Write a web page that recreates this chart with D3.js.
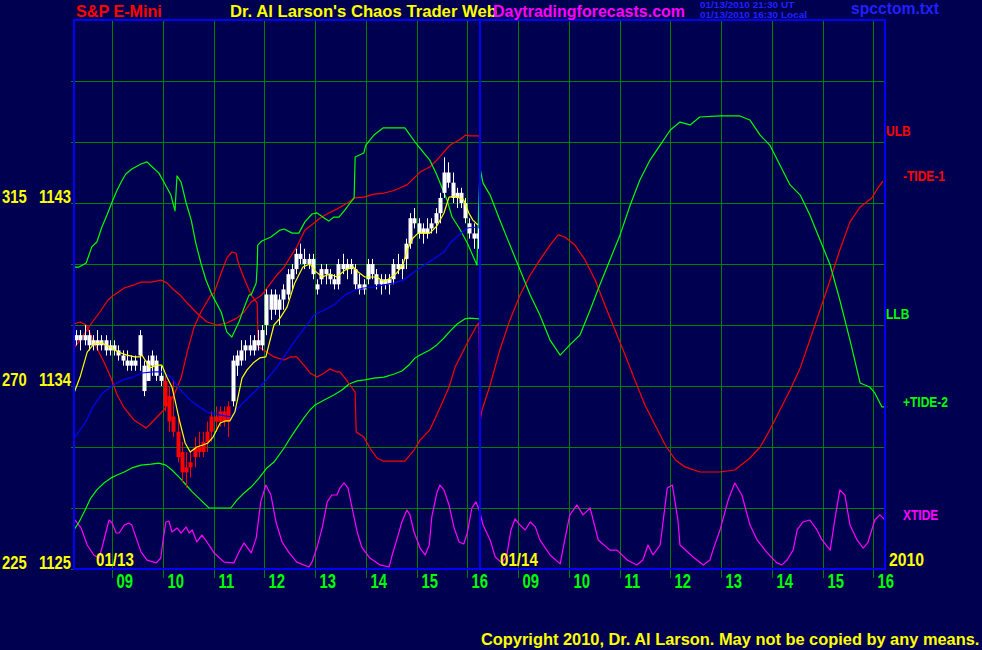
<!DOCTYPE html>
<html><head><meta charset="utf-8">
<script src="https://cdn.jsdelivr.net/npm/d3@7"></script>
<style>
html,body{margin:0;padding:0;background:#000050;}
svg{display:block;}
text{font-family:"Liberation Sans",Arial,Helvetica,sans-serif;font-weight:bold;}
</style></head><body>
<svg id="c" width="982" height="650"></svg>
<script>
// ---------------- DATA ----------------
const dayLabels = ["01/13", "01/14"];
const hourTicks = [9, 10, 11, 12, 13, 14, 15, 16];
const hourLabels = ["09", "10", "11", "12", "13", "14", "15", "16"];
const gridPrices = [1125, 1128, 1131, 1134, 1137, 1140, 1143, 1146, 1149];
const labelPrices = [1125, 1134, 1143];
const labelAngles = [225, 270, 315];
const sessionStart = 8.25, sessionEnd = 16.25;   // 08:15 - 16:15
const barMinutes = 5;

// 5-minute bars, 01/13 (open, high, low, close)
const barOpen = [1136.50,1136.25,1136.50,1136.50,1136.00,1136.25,1136.00,1136.25,1135.75,1136.00,1135.75,1135.50,1135.25,1135.00,1135.25,1135.50,1135.00,1134.25,1135.00,1135.25,1134.50,
 1134.25,1133.50,1132.50,1131.75,1130.75,1129.75,1130.00,1130.50,1131.00,1130.75,1131.25,1131.75,1132.50,1132.25,1132.75,1132.25,
 1133.25,1135.00,1135.25,1135.75,1136.00,1135.75,1136.25,1136.00,1137.00,1137.75,1138.50,1137.75,1138.25,1138.50,1139.25,1139.75,1140.50,1140.25,1140.00,1140.25,1139.00,1139.25,1139.75,1139.50,1139.25,1139.00,1140.00,1139.75,1140.00,1139.75,1139.00,1138.75,1139.25,1140.00,1139.50,1139.00,1139.25,1139.00,1139.25,1140.00,1139.75,1140.25,1141.00,1142.25,1142.00,1141.50,1141.75,1141.75,1142.00,1142.50,1143.50,1144.50,1144.00,1143.25,1143.50,1143.00,1142.00,1141.50,1141.25];
const barHigh = [1136.75,1136.75,1137.00,1136.75,1136.50,1136.75,1136.50,1136.50,1136.25,1136.25,1136.00,1135.75,1135.75,1135.50,1135.50,1136.75,1135.25,1135.50,1135.75,1135.50,1135.00,
 1134.50,1134.00,1134.25,1132.50,1131.25,1130.75,1130.75,1131.50,1131.75,1131.75,1132.25,1132.75,1133.00,1133.00,1133.00,1133.25,
 1135.50,1135.75,1136.25,1136.25,1136.50,1136.50,1136.75,1137.00,1138.75,1138.75,1138.75,1138.50,1139.00,1139.75,1140.00,1140.75,1141.00,1140.75,1140.50,1140.50,1139.25,1140.00,1140.00,1139.75,1139.50,1140.25,1140.50,1140.25,1140.25,1140.00,1139.50,1139.25,1140.25,1140.25,1139.75,1139.50,1139.50,1139.50,1140.25,1140.50,1140.25,1141.25,1142.50,1142.75,1142.25,1142.00,1142.25,1142.25,1142.75,1143.50,1145.25,1145.00,1144.50,1143.75,1143.75,1143.25,1142.25,1142.00,1141.75];
const barLow = [1136.00,1135.75,1136.00,1135.75,1135.75,1135.75,1135.75,1135.50,1135.50,1135.50,1135.25,1135.00,1134.75,1134.75,1134.75,1134.75,1133.50,1134.25,1134.50,1134.25,1134.00,
 1132.75,1131.75,1131.50,1130.25,1129.25,1129.00,1129.50,1130.00,1130.50,1130.50,1130.75,1131.25,1131.75,1132.00,1132.00,1131.50,
 1133.00,1134.50,1135.00,1135.25,1135.50,1135.50,1135.75,1135.75,1136.50,1137.25,1137.50,1137.00,1137.75,1138.25,1138.75,1139.50,1140.00,1139.75,1139.75,1139.25,1138.50,1139.00,1139.00,1139.00,1138.75,1138.75,1139.50,1139.25,1139.50,1138.75,1138.50,1138.50,1139.00,1139.25,1138.75,1138.50,1138.75,1138.50,1139.00,1139.50,1139.25,1139.75,1140.75,1141.75,1141.25,1141.00,1141.25,1141.50,1141.50,1142.00,1143.25,1143.75,1143.00,1142.75,1142.75,1142.00,1141.25,1140.75,1140.75];
const barClose = [1136.25,1136.50,1136.25,1136.00,1136.25,1136.00,1136.25,1135.75,1136.00,1135.75,1135.50,1135.25,1135.00,1135.25,1135.00,1136.50,1133.75,1135.25,1135.50,1134.50,1134.25,
 1133.00,1132.25,1131.75,1130.50,1129.75,1130.00,1130.25,1131.00,1130.75,1131.25,1131.75,1132.50,1132.25,1132.75,1132.25,1133.00,
 1135.25,1135.50,1135.75,1136.00,1135.75,1136.25,1136.00,1136.75,1138.50,1138.50,1137.75,1138.25,1138.75,1139.50,1139.75,1140.50,1140.25,1140.00,1140.25,1139.50,1138.75,1139.75,1139.50,1139.25,1139.00,1140.00,1139.75,1140.00,1139.75,1139.00,1138.75,1139.00,1140.00,1139.50,1139.00,1139.25,1139.00,1139.25,1140.00,1139.75,1140.00,1141.00,1142.25,1142.00,1141.50,1141.75,1141.50,1142.00,1142.50,1143.25,1144.50,1144.00,1143.25,1143.50,1143.00,1142.25,1141.50,1141.25,1141.50];
const redBarRange = [21, 36];

// indicator series: [hour, value]  (day 0 = 01/13, day 1 = 01/14)
const ulbDay1 = [[8.25,1135.87],[8.37,1136.26],[8.57,1137.00],[8.76,1137.64],[8.92,1138.23],[9.04,1138.48],[9.24,1138.82],[9.43,1138.97],[9.57,1139.11],[9.77,1139.11],[9.96,1139.21],[10.08,1139.07],[10.22,1138.72],[10.34,1138.48],[10.48,1138.08],[10.67,1137.59],[10.87,1137.15],[11.07,1137.00],[11.26,1137.10],[11.46,1137.34],[11.60,1137.64],[11.74,1138.13],[11.95,1138.48],[12.13,1139.07],[12.25,1139.46],[12.39,1139.85],[12.51,1140.34],[12.64,1140.84],[12.80,1141.67],[12.98,1142.02],[13.10,1142.26],[13.27,1142.51],[13.43,1142.70],[13.57,1142.90],[13.67,1143.05],[13.77,1143.25],[13.96,1143.29],[14.16,1143.44],[14.36,1143.49],[14.52,1143.59],[14.67,1143.74],[14.81,1143.89],[14.95,1144.23],[15.07,1144.52],[15.26,1144.77],[15.40,1145.11],[15.54,1145.51],[15.66,1145.85],[15.84,1146.10],[15.97,1146.34],[16.05,1146.30],[16.25,1146.30]];
const llbDay1 = [[8.25,1126.92],[8.35,1127.31],[8.45,1127.80],[8.58,1128.49],[8.70,1128.89],[8.84,1129.23],[8.98,1129.48],[9.10,1129.62],[9.24,1129.77],[9.39,1129.97],[9.57,1130.11],[9.77,1130.16],[9.92,1130.21],[10.06,1130.11],[10.18,1129.87],[10.32,1129.52],[10.46,1129.13],[10.58,1128.79],[10.75,1128.39],[10.91,1128.00],[11.34,1128.00],[11.46,1128.39],[11.60,1128.74],[11.74,1129.03],[11.90,1129.48],[12.05,1129.97],[12.19,1130.26],[12.39,1130.95],[12.51,1131.44],[12.64,1131.93],[12.78,1132.43],[12.90,1132.82],[13.00,1133.07],[13.18,1133.31],[13.37,1133.56],[13.53,1133.80],[13.67,1134.10],[13.83,1134.25],[13.98,1134.30],[14.16,1134.39],[14.36,1134.44],[14.56,1134.59],[14.71,1134.74],[14.85,1135.03],[14.97,1135.38],[15.07,1135.52],[15.26,1135.77],[15.40,1136.02],[15.54,1136.36],[15.66,1136.70],[15.80,1137.05],[15.95,1137.30],[16.05,1137.34],[16.23,1137.30]];
const tide1Day1 = [[8.25,1137.05],[8.37,1137.15],[8.49,1137.00],[8.64,1136.16],[8.84,1135.18],[8.98,1134.39],[9.10,1133.56],[9.24,1132.92],[9.43,1132.33],[9.67,1131.93],[9.83,1132.33],[10.02,1132.82],[10.22,1133.56],[10.36,1134.39],[10.48,1135.67],[10.61,1136.85],[10.75,1137.64],[10.95,1138.48],[11.01,1138.57],[11.15,1139.56],[11.26,1140.29],[11.36,1140.59],[11.44,1140.54],[11.50,1139.95],[11.60,1139.31],[11.74,1138.48],[11.86,1138.08],[11.88,1135.92],[11.93,1135.87],[12.19,1135.43],[12.39,1135.28],[12.51,1135.43],[12.64,1135.43],[12.78,1135.03],[12.90,1134.64],[13.04,1134.44],[13.18,1134.64],[13.29,1134.84],[13.43,1134.69],[13.49,1134.69],[13.59,1134.39],[13.69,1134.05],[13.79,1133.70],[13.80,1132.72],[13.81,1131.74],[13.96,1131.49],[14.08,1130.95],[14.22,1130.46],[14.34,1130.31],[14.77,1130.31],[14.95,1130.85],[15.07,1131.34],[15.26,1131.84],[15.46,1132.92],[15.64,1133.95],[15.76,1134.93],[15.90,1135.62],[16.03,1136.26],[16.19,1137.00],[16.23,1137.10]];
const tide1Day2 = [[8.25,1132.23],[8.29,1132.82],[8.45,1134.05],[8.64,1135.77],[8.84,1137.25],[9.04,1138.48],[9.24,1139.46],[9.43,1140.20],[9.63,1140.93],[9.79,1141.43],[9.92,1141.33],[10.12,1140.93],[10.32,1140.20],[10.52,1139.21],[10.71,1137.98],[10.91,1136.75],[11.11,1135.52],[11.30,1134.30],[11.50,1133.07],[11.70,1132.08],[11.90,1131.10],[12.10,1130.36],[12.29,1130.02],[12.58,1129.77],[12.98,1129.77],[13.27,1129.87],[13.57,1130.46],[13.77,1131.00],[13.96,1131.84],[14.16,1132.82],[14.36,1133.80],[14.56,1134.89],[14.75,1136.26],[14.95,1137.74],[15.15,1139.21],[15.34,1140.69],[15.54,1142.07],[15.74,1142.80],[15.97,1143.25],[16.09,1143.74],[16.19,1144.08]];
const tide2Day1 = [[8.25,1139.85],[8.35,1139.85],[8.49,1140.05],[8.60,1140.84],[8.70,1141.08],[8.80,1141.82],[8.90,1142.41],[9.00,1143.05],[9.10,1143.64],[9.18,1144.03],[9.27,1144.43],[9.39,1144.67],[9.57,1144.92],[9.69,1145.02],[9.77,1144.82],[9.92,1144.48],[10.02,1144.03],[10.16,1143.39],[10.24,1142.61],[10.26,1143.49],[10.28,1144.33],[10.36,1144.03],[10.46,1143.00],[10.56,1142.16],[10.65,1141.03],[10.75,1140.05],[10.85,1139.21],[10.97,1138.48],[11.15,1137.64],[11.26,1136.66],[11.36,1136.41],[11.50,1137.15],[11.60,1137.84],[11.70,1138.48],[11.74,1138.48],[11.84,1139.07],[11.86,1139.95],[11.87,1140.93],[11.95,1141.13],[12.13,1141.33],[12.31,1141.67],[12.39,1141.72],[12.55,1141.52],[12.68,1141.52],[12.80,1142.07],[12.94,1142.46],[13.04,1142.51],[13.18,1142.26],[13.27,1142.11],[13.37,1142.31],[13.47,1142.31],[13.59,1142.66],[13.69,1143.00],[13.77,1143.25],[13.78,1144.28],[13.79,1145.26],[13.96,1145.46],[14.00,1145.85],[14.16,1146.34],[14.34,1146.69],[14.77,1146.69],[14.97,1146.00],[15.05,1145.75],[15.26,1145.11],[15.40,1144.38],[15.60,1143.15],[15.70,1142.31],[15.84,1141.77],[16.00,1141.03],[16.19,1139.95]];
const tide2Day2 = [[8.25,1144.72],[8.31,1143.98],[8.45,1143.39],[8.64,1142.16],[8.84,1140.93],[9.04,1139.70],[9.24,1138.48],[9.43,1137.49],[9.63,1136.26],[9.83,1135.52],[10.02,1136.02],[10.22,1136.51],[10.42,1137.74],[10.61,1138.97],[10.81,1140.20],[11.01,1141.43],[11.21,1142.90],[11.40,1144.13],[11.60,1145.11],[11.80,1145.85],[12.00,1146.59],[12.19,1146.98],[12.39,1146.84],[12.58,1147.23],[12.98,1147.28],[13.37,1147.28],[13.57,1147.08],[13.77,1146.34],[13.96,1145.85],[14.16,1144.87],[14.36,1143.89],[14.56,1143.39],[14.75,1142.41],[14.95,1141.18],[15.15,1139.95],[15.34,1138.23],[15.54,1136.26],[15.74,1134.15],[15.93,1133.95],[16.03,1133.66],[16.17,1132.97],[16.23,1132.97]];
const xtideDay1 = [[8.25,1127.46],[8.39,1127.02],[8.51,1126.18],[8.64,1125.69],[8.74,1125.54],[8.80,1126.03],[8.88,1126.82],[8.94,1127.41],[9.00,1127.26],[9.08,1126.77],[9.14,1126.77],[9.24,1127.16],[9.33,1127.26],[9.39,1127.16],[9.47,1126.57],[9.57,1125.84],[9.69,1125.44],[9.87,1125.30],[9.96,1125.54],[10.00,1126.33],[10.06,1127.31],[10.12,1127.36],[10.18,1126.82],[10.28,1127.02],[10.36,1126.77],[10.46,1127.07],[10.52,1126.77],[10.58,1126.92],[10.67,1126.33],[10.77,1126.67],[10.87,1126.33],[11.01,1125.79],[11.21,1125.34],[11.40,1125.30],[11.50,1125.84],[11.60,1126.28],[11.66,1126.08],[11.74,1125.79],[11.84,1126.52],[11.93,1128.30],[12.03,1129.13],[12.13,1128.64],[12.23,1127.31],[12.35,1126.33],[12.49,1125.79],[12.64,1125.34],[12.88,1125.10],[12.94,1125.34],[13.04,1126.08],[13.14,1127.02],[13.24,1128.30],[13.33,1128.64],[13.43,1128.64],[13.49,1128.98],[13.57,1129.23],[13.65,1128.98],[13.73,1128.00],[13.83,1126.82],[13.92,1126.08],[14.08,1125.54],[14.28,1125.20],[14.46,1125.10],[14.52,1125.69],[14.61,1126.43],[14.71,1127.31],[14.81,1127.90],[14.87,1127.66],[14.95,1126.82],[15.07,1126.03],[15.17,1125.69],[15.25,1126.18],[15.30,1127.56],[15.40,1128.74],[15.46,1129.13],[15.54,1128.89],[15.64,1128.15],[15.74,1127.02],[15.84,1126.33],[15.93,1126.23],[16.00,1126.77],[16.09,1128.00],[16.17,1128.30],[16.25,1127.80]];
const xtideDay2 = [[8.31,1127.16],[8.45,1126.43],[8.55,1125.59],[8.68,1125.30],[8.78,1125.69],[8.86,1126.92],[8.94,1127.46],[9.04,1127.16],[9.14,1126.92],[9.24,1127.31],[9.34,1127.07],[9.43,1126.43],[9.63,1125.69],[9.83,1125.25],[9.92,1126.43],[10.02,1127.66],[10.16,1128.15],[10.28,1127.66],[10.42,1128.00],[10.58,1126.43],[10.81,1125.93],[10.95,1125.93],[11.15,1125.44],[11.34,1125.20],[11.46,1125.44],[11.56,1126.18],[11.66,1125.69],[11.80,1126.18],[11.94,1128.98],[12.04,1129.13],[12.15,1127.41],[12.19,1126.18],[12.45,1125.59],[12.65,1125.20],[12.78,1125.44],[12.84,1125.93],[12.98,1126.92],[13.14,1128.39],[13.27,1129.23],[13.41,1128.64],[13.57,1127.16],[13.71,1126.43],[13.91,1125.79],[14.10,1125.30],[14.20,1125.20],[14.30,1125.44],[14.42,1125.93],[14.50,1126.92],[14.61,1127.31],[14.75,1127.41],[14.89,1126.92],[14.99,1126.43],[15.15,1125.93],[15.24,1127.41],[15.34,1128.89],[15.44,1128.64],[15.54,1127.16],[15.68,1126.43],[15.80,1126.03],[15.89,1126.28],[16.03,1127.41],[16.13,1127.66],[16.23,1127.41]];
const slowAvgDay1 = [[8.25,1131.44],[8.47,1132.18],[8.62,1132.97],[8.82,1133.66],[9.02,1134.05],[9.22,1134.30],[9.41,1134.44],[9.59,1134.64],[9.81,1134.69],[9.98,1134.69],[10.16,1134.44],[10.38,1133.70],[10.61,1133.16],[10.87,1132.72],[11.15,1132.57],[11.34,1132.48],[11.54,1133.07],[11.74,1133.56],[11.99,1134.15],[12.25,1134.93],[12.45,1135.67],[12.64,1136.36],[12.84,1137.00],[12.98,1137.49],[13.18,1137.74],[13.37,1137.98],[13.59,1138.48],[13.79,1138.72],[13.96,1138.82],[14.16,1138.87],[14.36,1138.97],[14.56,1139.07],[14.75,1139.21],[14.95,1139.61],[15.15,1139.95],[15.34,1140.25],[15.54,1140.59],[15.66,1141.03],[15.84,1141.43],[16.00,1141.77],[16.19,1141.82]];
const fastAvgDay1 = [[8.25,1133.66],[8.37,1134.44],[8.51,1135.67],[8.64,1136.07],[8.80,1136.11],[8.96,1135.92],[9.12,1135.67],[9.29,1135.52],[9.45,1135.43],[9.55,1135.43],[9.59,1135.52],[9.65,1135.28],[9.75,1134.89],[9.89,1135.03],[9.98,1135.03],[10.08,1134.44],[10.18,1133.95],[10.24,1133.31],[10.34,1132.18],[10.44,1131.20],[10.54,1130.75],[10.67,1131.00],[10.79,1131.10],[10.89,1131.20],[10.99,1131.49],[11.13,1132.18],[11.23,1132.28],[11.32,1132.28],[11.42,1132.72],[11.56,1134.39],[11.66,1134.79],[11.78,1135.13],[11.91,1135.38],[12.03,1135.43],[12.19,1137.00],[12.31,1137.34],[12.45,1137.89],[12.60,1139.07],[12.76,1139.85],[12.90,1140.00],[13.00,1139.66],[13.14,1139.36],[13.29,1139.51],[13.43,1139.36],[13.59,1139.70],[13.75,1139.85],[13.85,1139.61],[13.98,1139.36],[14.22,1139.36],[14.36,1139.11],[14.48,1139.31],[14.61,1139.56],[14.73,1139.95],[14.83,1140.79],[14.93,1141.28],[15.03,1141.52],[15.26,1141.52],[15.40,1141.87],[15.54,1142.51],[15.64,1143.29],[15.76,1143.34],[15.93,1143.15],[16.03,1142.51],[16.11,1142.16],[16.21,1141.92]];

// ---------------- LAYOUT ----------------
const W = 982, H = 650;
const pL = 74, pR = 885, pT = 20, pB = 569;
const sessLen = sessionEnd - sessionStart;
const x = d3.scaleLinear().domain([0, 2 * sessLen]).range([74, 886]);
const X = (day, h) => x(day * sessLen + h - sessionStart);
const y = d3.scaleLinear().domain([1125, 1152]).range([pB, pT]);
const C = {bg:"#000050", frame:"#0000ff", grid:"#008000", red:"#ff0000", green:"#00ff00", yellow:"#ffff00", blue:"#0000ff", magenta:"#ff00ff", white:"#ffffff", stamp:"#2020ff"};

const svg = d3.select("#c");
svg.append("rect").attr("width", W).attr("height", H).attr("fill", C.bg);

function label(txt, px, py, size, sx, fill, anchor) {
  return svg.append("text").text(txt)
    .attr("transform", `translate(${px},${py}) scale(${sx},1)`)
    .attr("font-size", size).attr("fill", fill)
    .attr("text-anchor", anchor || "start");
}

const crisp = v => Math.round(v) + 0.5;
// grid: horizontal
svg.append("g").selectAll("line").data(gridPrices.filter(p => p > 1125)).join("line")
  .attr("x1", 71).attr("x2", pR).attr("y1", d => crisp(y(d))).attr("y2", d => crisp(y(d)))
  .attr("stroke", C.grid).attr("stroke-width", 1);

// grid: vertical hour lines and bottom axis
const tickT = [];
[0, 1].forEach(d => hourTicks.forEach(h => tickT.push(d * sessLen + h - sessionStart)));
svg.append("g").selectAll("line").data(tickT).join("line")
  .attr("x1", d => crisp(x(d))).attr("x2", d => crisp(x(d))).attr("y1", pT + 1).attr("y2", pB)
  .attr("stroke", C.grid);

const xAxis = d3.axisBottom(x).tickValues(tickT).tickSize(9).tickSizeOuter(0)
  .tickFormat((d, i) => hourLabels[i % hourLabels.length]);
const gx = svg.append("g").attr("transform", `translate(0,${pB})`).call(xAxis);
gx.select(".domain").remove();
gx.selectAll(".tick").attr("transform", d => `translate(${crisp(x(d))},0)`);
gx.selectAll(".tick line").attr("stroke", C.grid);
gx.selectAll(".tick text").attr("fill", C.green).attr("font-size", 20).attr("text-anchor", "start")
  .attr("font-family", null).attr("x", null).attr("y", null).attr("dy", null)
  .attr("transform", "translate(4,19) scale(0.74,1)");

// left axis small ticks
const yAxis = d3.axisLeft(y).tickValues(gridPrices).tickSize(3).tickSizeOuter(0).tickFormat("");
const gy = svg.append("g").attr("transform", `translate(${pL},0)`).call(yAxis);
gy.select(".domain").remove();
gy.selectAll(".tick").attr("transform", d => `translate(0,${crisp(y(d))})`);
gy.selectAll(".tick line").attr("stroke", C.grid);

// left labels (angle + price)
labelPrices.forEach((p, i) => {
  label(String(labelAngles[i]), 2, Math.round(y(p)), 19, 0.78, C.yellow);
  label(String(p), 71, Math.round(y(p)), 19, 0.78, C.yellow, "end");
});

// curves
const line = d3.line().x(d => x(d[0])).y(d => y(d[1]));
const toT = (arr, day) => arr.map(d => [day * sessLen + d[0] - sessionStart, d[1]]);
function curve(data, color) {
  svg.append("path").datum(data).attr("d", line).attr("fill", "none")
    .attr("stroke", color).attr("stroke-width", 1.2).attr("stroke-linejoin", "round");
}
curve(toT(xtideDay1, 0).concat(toT(xtideDay2, 1)), C.magenta);
curve(toT(llbDay1, 0), C.green);
curve(toT(ulbDay1, 0), C.red);
curve(toT(tide1Day1, 0).concat(toT(tide1Day2, 1)), C.red);
curve(toT(tide2Day1, 0).concat(toT(tide2Day2, 1)), C.green);

// price bars
const gb = svg.append("g");
barOpen.forEach((o, i) => {
  const t = (i + 0.5) * barMinutes / 60;
  const cx = Math.round(x(t)) + 0.5;
  const col = (i >= redBarRange[0] && i <= redBarRange[1]) ? C.red : C.white;
  gb.append("line").attr("x1", cx).attr("x2", cx).attr("y1", y(barHigh[i])).attr("y2", y(barLow[i]))
    .attr("stroke", col).attr("stroke-width", 1);
  const y0 = y(Math.max(o, barClose[i])), y1 = y(Math.min(o, barClose[i]));
  gb.append("rect").attr("x", cx - 2).attr("width", 4).attr("y", y0).attr("height", Math.max(2, y1 - y0))
    .attr("fill", col);
});

curve(toT(slowAvgDay1, 0), C.blue);
curve(toT(fastAvgDay1, 0), C.yellow);

// day separator (end of 01/13 session)
const sepX = Math.round(X(0, sessionEnd));
svg.append("line").attr("x1", sepX).attr("x2", sepX)
  .attr("y1", pT).attr("y2", pB).attr("stroke", C.blue).attr("stroke-width", 2);

// frame
svg.append("rect").attr("x", pL).attr("y", pT).attr("width", pR - pL).attr("height", pB - pT)
  .attr("fill", "none").attr("stroke", C.frame).attr("stroke-width", 2);

// series end labels
const last = a => a[a.length - 1][1];
label("ULB", 886, Math.round(y(last(ulbDay1))), 15, 0.8, C.red);
label("-TIDE-1", 903, Math.round(y(last(tide1Day2))), 15, 0.8, C.red);
label("LLB", 886, Math.round(y(last(llbDay1))), 15, 0.8, C.green);
label("+TIDE-2", 903, Math.round(y(last(tide2Day2))), 15, 0.8, C.green);
label("XTIDE", 903, Math.round(y(last(xtideDay2))), 15, 0.8, C.magenta);

// day labels and year
label(dayLabels[0], 96, 566, 18, 0.84, C.yellow);
label(dayLabels[1], 500, 566, 18, 0.84, C.yellow);
label("2010", 889, 566, 19, 0.83, C.yellow);

// titles
label("S&P E-Mini", 76, 17, 17, 0.95, C.red);
label("Dr. Al Larson's Chaos Trader Web", 230, 17, 17, 0.98, C.yellow);
label("Daytradingforecasts.com", 493, 17, 16, 1.0, C.magenta);
label("01/13/2010 21:30 UT", 700, 8, 9.5, 1.05, C.stamp);
label("01/13/2010 16:30 Local", 700, 18, 9.5, 1.05, C.stamp);
label("spcctom.txt", 851, 14, 16, 0.98, C.stamp);
label("Copyright 2010, Dr. Al Larson. May not be copied by any means.", 481, 645, 16, 1.025, C.yellow);
</script>
</body></html>
